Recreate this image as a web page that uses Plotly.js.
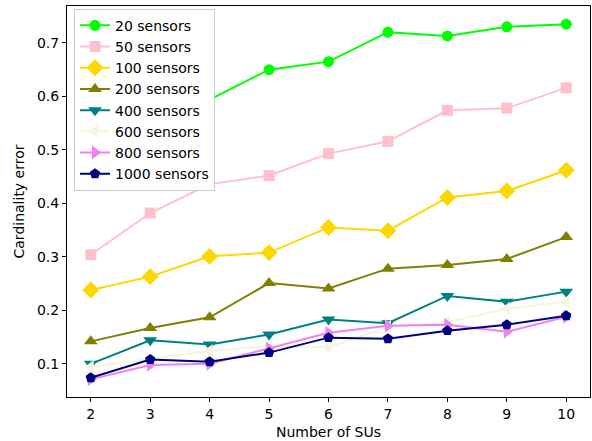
<!DOCTYPE html>
<html>
<head>
<meta charset="utf-8">
<script src="https://cdn.plot.ly/plotly-3.0.1.min.js"></script>
<style>html,body{margin:0;padding:0;background:#fff;}#chart{width:592px;height:441px;}</style>
</head>
<body>
<div id="chart"></div>
<script>
const numSUs = [2, 3, 4, 5, 6, 7, 8, 9, 10];
const seriesNames = ["20 sensors", "50 sensors", "100 sensors", "200 sensors", "400 sensors", "600 sensors", "800 sensors", "1000 sensors"];
const s20   = [0.437, 0.530, 0.594, 0.650, 0.665, 0.720, 0.713, 0.730, 0.735];
const s50   = [0.304, 0.382, 0.436, 0.452, 0.493, 0.516, 0.574, 0.578, 0.616];
const s100  = [0.238, 0.263, 0.301, 0.308, 0.355, 0.349, 0.411, 0.423, 0.462];
const s200  = [0.142, 0.167, 0.187, 0.251, 0.241, 0.278, 0.285, 0.296, 0.337];
const s400  = [0.100, 0.144, 0.136, 0.155, 0.183, 0.176, 0.227, 0.216, 0.235];
const s600  = [0.094, 0.109, 0.124, 0.133, 0.131, 0.169, 0.178, 0.203, 0.216];
const s800  = [0.071, 0.098, 0.100, 0.129, 0.158, 0.171, 0.173, 0.160, 0.188];
const s1000 = [0.074, 0.108, 0.104, 0.121, 0.149, 0.147, 0.162, 0.173, 0.190];

const allSeries = [s20, s50, s100, s200, s400, s600, s800, s1000];
const colors = ["#00ff00", "#ffc0cb", "#ffd700", "#808000", "#008080", "#f5f5dc", "#ee82ee", "#000080"];
const symbols = ["circle", "square", "diamond", "triangle-up", "triangle-down", "triangle-left", "triangle-right", "pentagon"];
const sizes = [11, 11, 13, 12, 12, 12, 12, 11];

const traces = allSeries.map((ys, i) => ({
  x: numSUs, y: ys, name: seriesNames[i], type: "scatter", mode: "lines+markers",
  line: {color: colors[i], width: 2},
  marker: {color: colors[i], symbol: symbols[i], size: sizes[i], line: {width: 0}}
}));

const font = {family: "DejaVu Sans, sans-serif", size: 14, color: "#000"};
const layout = {
  width: 592, height: 441,
  margin: {l: 67, r: 2, t: 6, b: 44},
  paper_bgcolor: "#fff", plot_bgcolor: "#fff",
  font: font,
  showlegend: true,
  legend: {x: 0.0134, y: 0.993, xanchor: "left", yanchor: "top",
    bgcolor: "#ffffff", bordercolor: "#cccccc", borderwidth: 1,
    font: {family: "DejaVu Sans, sans-serif", size: 14, color: "#000"}},
  xaxis: {range: [1.6, 10.4], tickvals: numSUs, ticks: "outside", ticklen: 4, tickcolor: "#000",
    showline: true, linecolor: "#000", linewidth: 1, mirror: true, showgrid: false, zeroline: false,
    title: {text: "Number of SUs", font: font, standoff: 6}, tickfont: font},
  yaxis: {range: [0.038, 0.769], tickvals: [0.1, 0.2, 0.3, 0.4, 0.5, 0.6, 0.7], ticktext: ["0.1","0.2","0.3","0.4","0.5","0.6","0.7"],
    ticks: "outside", ticklen: 4, tickcolor: "#000",
    showline: true, linecolor: "#000", linewidth: 1, mirror: true, showgrid: false, zeroline: false,
    title: {text: "Cardinality error", font: font, standoff: 9}, tickfont: font}
};
Plotly.newPlot("chart", traces, layout, {displayModeBar: false, staticPlot: true});
</script>
</body>
</html>
